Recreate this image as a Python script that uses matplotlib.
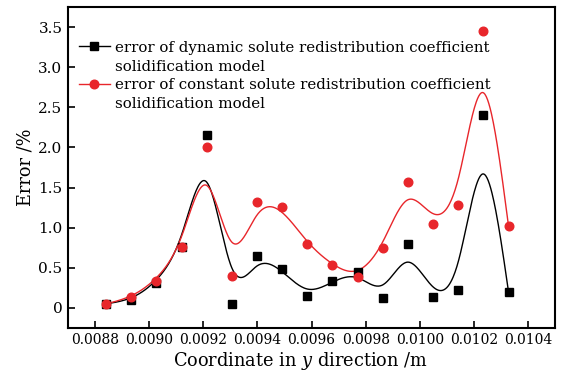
import matplotlib
matplotlib.use("Agg")
import matplotlib.pyplot as plt
import numpy as np
from matplotlib.lines import Line2D


coord = np.array([
    0.008842, 0.008934, 0.009026, 0.009121, 0.009212, 0.009305, 0.009399,
    0.009489, 0.009584, 0.009677, 0.009770, 0.009864, 0.009955, 0.010049,
    0.010142, 0.010234, 0.010328,
])
err_dynamic = np.array([
    0.05, 0.10, 0.31, 0.76, 2.15, 0.05, 0.65, 0.48, 0.15, 0.33, 0.45,
    0.12, 0.79, 0.14, 0.22, 2.40, 0.20,
])
err_constant = np.array([
    0.05, 0.13, 0.34, 0.76, 2.00, 0.40, 1.32, 1.26, 0.80, 0.53, 0.38,
    0.75, 1.57, 1.05, 1.28, 3.45, 1.02,
])

label_dynamic = ["error of dynamic solute redistribution coefficient",
                 "solidification model"]
label_constant = ["error of constant solute redistribution coefficient",
                  "solidification model"]

RED = "#e8262b"


def bspline(px, py, num=40):
    # uniform cubic B-spline, data as control points, ends padded by reflection
    px = np.concatenate([[2 * px[0] - px[1]], px, [2 * px[-1] - px[-2]]])
    py = np.concatenate([[2 * py[0] - py[1]], py, [2 * py[-1] - py[-2]]])
    u = np.linspace(0, 1, num, endpoint=False)
    b0 = (1 - u) ** 3 / 6
    b1 = (3 * u ** 3 - 6 * u ** 2 + 4) / 6
    b2 = (-3 * u ** 3 + 3 * u ** 2 + 3 * u + 1) / 6
    b3 = u ** 3 / 6
    xs, ys = [], []
    for i in range(len(px) - 3):
        xs.append(b0 * px[i] + b1 * px[i + 1] + b2 * px[i + 2] + b3 * px[i + 3])
        ys.append(b0 * py[i] + b1 * py[i + 1] + b2 * py[i + 2] + b3 * py[i + 3])
    xs.append([px[-2]])
    ys.append([py[-2]])
    return np.concatenate(xs), np.concatenate(ys)


plt.rcParams["font.family"] = "DejaVu Serif"
plt.rcParams["mathtext.fontset"] = "dejavuserif"

fig = plt.figure(figsize=(5.65, 3.76), dpi=100)
ax = fig.add_axes([0.1204, 0.128, 0.862, 0.853])

bx, by = bspline(coord, err_dynamic)
rx, ry = bspline(coord, err_constant)
ax.plot(bx, by, color="black", lw=1.0, zorder=2)
ax.plot(rx, ry, color=RED, lw=1.0, zorder=2)
ax.plot(coord, err_dynamic, "s", color="black", ms=5.5, zorder=3)
ax.plot(coord, err_constant, "o", color=RED, ms=6.2, zorder=4)

xt = np.arange(0.0088, 0.01041, 0.0002)
ax.set_xlim(0.0087, 0.0105)
ax.set_ylim(-0.25, 3.75)
ax.set_xticks(xt)
ax.set_xticklabels([f"{v:.4f}" for v in xt])
ax.set_yticks([0, 0.5, 1.0, 1.5, 2.0, 2.5, 3.0, 3.5])
ax.set_yticklabels(["0", "0.5", "1.0", "1.5", "2.0", "2.5", "3.0", "3.5"])
ax.tick_params(direction="in", length=5, width=1.2, labelsize=10, pad=4)
ax.tick_params(axis="y", labelsize=11)
ax.tick_params(top=False, right=False)
for s in ax.spines.values():
    s.set_linewidth(1.5)

ax.set_xlabel("Coordinate in $y$ direction /m", fontsize=12.8, labelpad=2, x=0.477)
ax.set_ylabel("Error /%", fontsize=12.8, labelpad=3)

blank = Line2D([], [], linestyle="none")
h_dyn = Line2D([], [], color="black", marker="s", ms=5.5, lw=1.0)
h_con = Line2D([], [], color=RED, marker="o", ms=6.2, lw=1.0)
ax.legend([h_dyn, blank, h_con, blank],
          [label_dynamic[0], label_dynamic[1], label_constant[0], label_constant[1]],
          loc="upper left", bbox_to_anchor=(0.0, 0.928), frameon=False,
          fontsize=10.8, handlelength=2.1, handletextpad=0.35,
          labelspacing=0.32, borderaxespad=0.3, handleheight=0.7)

fig.savefig("out.png", dpi=100)
